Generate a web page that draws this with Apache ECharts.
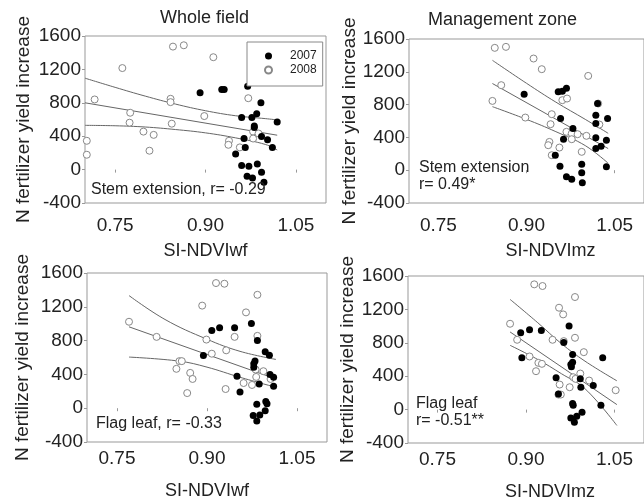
<!DOCTYPE html>
<html>
<head>
<meta charset="utf-8">
<script src="https://cdn.jsdelivr.net/npm/echarts@6/dist/echarts.min.js"></script>
<style>html,body{margin:0;padding:0;background:#fff;}#c{width:644px;height:502px;}</style>
</head>
<body>
<div id="c"></div>
<script>
// ---- data ----
const yearNames = ['2007', '2008'];
const xTicks = [0.75, 0.90, 1.05];
const yTicksMin = -400, yTicksMax = 1600, yTickStep = 400;
const panelTitles = ['Whole field', 'Management zone'];
const yAxisTitle = 'N fertilizer yield increase';
const xAxisTitles = ['SI-NDVIwf', 'SI-NDVImz', 'SI-NDVIwf', 'SI-NDVImz'];
const notes = ['Stem extension, r= -0.29', 'Stem extension\nr= 0.49*', 'Flag leaf, r= -0.33', 'Flag leaf\nr= -0.51**'];

// Panel 1: whole field, stem extension
const wfStem2007 = [[0.891,919],[0.927,958],[0.931,958],[0.970,998],[0.992,800],[0.960,624],[0.977,624],[0.985,670],[1.019,570],[0.981,522],[0.981,504],[0.964,373],[0.993,397],[1.003,356],[1.011,266],[0.966,266],[0.950,186],[0.960,48],[0.972,40],[0.986,68],[0.969,-79],[0.978,-102],[0.993,-31],[0.997,-150]];
const wfStem2008 = [[0.703,345],[0.703,178],[0.716,840],[0.762,1216],[0.775,681],[0.774,562],[0.797,455],[0.814,416],[0.807,226],[0.846,1473],[0.864,1489],[0.842,848],[0.842,808],[0.844,550],[0.913,1346],[0.898,641],[0.939,345],[0.938,297],[0.957,266],[0.971,855],[0.979,455],[0.979,372],[0.988,432]];
const wfStemFit = [[0.70,800],[1.019,412]];
const wfStemUpper = [[0.70,1095],[0.75,985],[0.80,880],[0.85,785],[0.90,705],[0.95,645],[1.00,610],[1.019,595]];
const wfStemLower = [[0.70,530],[0.75,525],[0.80,510],[0.85,480],[0.90,440],[0.95,380],[1.00,300],[1.019,235]];

// Panel 2: management zone, stem extension
const mzStem2007 = [[0.896,927],[0.954,958],[0.961,963],[0.968,1000],[1.021,813],[1.018,671],[1.038,630],[0.958,630],[1.018,569],[0.979,508],[1.018,395],[0.963,378],[1.036,366],[1.027,293],[1.018,265],[0.949,183],[0.994,73],[0.957,49],[1.036,41],[0.994,-32],[0.968,-80],[0.977,-110],[0.995,-154]];
const mzStem2008 = [[0.846,1492],[0.865,1504],[0.912,1362],[0.926,1232],[1.005,1150],[0.857,1037],[0.842,845],[0.898,642],[0.961,854],[0.969,874],[0.943,683],[0.941,561],[0.939,345],[0.937,305],[0.943,183],[0.956,276],[0.968,468],[0.977,448],[0.987,439],[1.002,419],[0.977,378],[0.994,224],[1.022,813],[1.024,557]];
const mzStemFit = [[0.842,1057],[1.039,264]];
const mzStemUpper = [[0.842,1340],[0.90,1060],[0.95,830],[1.00,620],[1.039,450]];
const mzStemLower = [[0.842,775],[0.90,620],[0.95,470],[1.00,300],[1.039,85]];

// Panel 3: whole field, flag leaf
const wfFlag2007 = [[0.894,625],[0.908,919],[0.921,951],[0.946,951],[0.974,1003],[0.984,800],[0.997,669],[1.004,626],[0.980,558],[0.978,525],[0.978,486],[1.005,399],[1.011,366],[0.950,378],[0.987,287],[1.011,259],[0.955,191],[0.983,48],[0.998,80],[1.000,52],[0.997,-31],[0.988,-79],[0.977,-87],[0.983,-150]];
const wfFlag2008 = [[0.770,1023],[0.816,844],[0.849,466],[0.854,557],[0.858,557],[0.872,418],[0.876,346],[0.867,179],[0.892,1214],[0.899,812],[0.908,645],[0.915,1481],[0.929,1473],[0.932,685],[0.931,227],[0.946,844],[0.965,1134],[0.961,298],[0.975,275],[0.984,1342],[0.984,856],[0.981,458],[0.982,370],[0.994,438],[1.006,346]];
const wfFlagFit = [[0.77,963],[1.015,346]];
const wfFlagUpper = [[0.77,1333],[0.83,1050],[0.90,816],[0.955,673],[1.015,577]];
const wfFlagLower = [[0.77,605],[0.854,557],[0.90,486],[0.955,366],[1.015,247]];

// Panel 4: management zone, flag leaf
const mzFlag2007 = [[0.891,920],[0.906,955],[0.926,948],[0.893,620],[0.973,1000],[0.964,805],[0.979,660],[0.979,568],[0.976,540],[0.977,512],[0.951,380],[0.992,368],[0.993,268],[1.014,288],[1.030,620],[1.027,52],[0.979,72],[0.980,52],[0.955,186],[0.995,-32],[0.986,-80],[0.976,-100],[0.982,-152]];
const mzFlag2008 = [[0.873,1028],[0.885,836],[0.906,636],[0.914,1500],[0.928,1480],[0.956,1220],[0.963,1140],[0.945,836],[0.964,820],[0.983,1348],[0.983,860],[0.998,688],[0.921,560],[0.927,548],[0.917,460],[0.957,300],[0.955,180],[0.959,180],[0.974,268],[0.980,388],[0.992,432],[0.984,368],[1.007,348],[1.052,232]];
const mzFlagFit = [[0.873,930],[1.054,60]];
const mzFlagUpper = [[0.873,1320],[0.92,1040],[0.96,790],[1.00,580],[1.054,345]];
const mzFlagLower = [[0.873,770],[0.92,600],[0.96,430],[1.00,250],[1.054,-190]];

// ---- chart ----
const FONT = 'Liberation Sans, Arial, Helvetica, sans-serif';
const panels = [
  {d07: wfStem2007, d08: wfStem2008, fit: wfStemFit, up: wfStemUpper, lo: wfStemLower},
  {d07: mzStem2007, d08: mzStem2008, fit: mzStemFit, up: mzStemUpper, lo: mzStemLower},
  {d07: wfFlag2007, d08: wfFlag2008, fit: wfFlagFit, up: wfFlagUpper, lo: wfFlagLower},
  {d07: mzFlag2007, d08: mzFlag2008, fit: mzFlagFit, up: mzFlagUpper, lo: mzFlagLower}
];
const gridBoxes = [
  {left: 85, top: 36, width: 241, height: 167},
  {left: 409, top: 39, width: 240, height: 164},
  {left: 87, top: 273, width: 240, height: 169},
  {left: 408, top: 276, width: 240, height: 167}
];
const yNameGaps = [52, 47, 55, 51];
const xLabelMargins = [13, 13, 7, 7];
const xNameGaps = [39, 39, 40, 40];
const xNamePad = [[0,0,0,0],[0,0,0,48],[0,0,0,0],[0,0,0,48]];
const notePos = [{left: 91, top: 181}, {left: 419, top: 159}, {left: 96, top: 415}, {left: 416, top: 395}];

const grids = gridBoxes.map(g => Object.assign({show: true, borderColor: '#999', borderWidth: 1, backgroundColor: 'transparent'}, g));
const xAxes = gridBoxes.map((g, i) => ({
  type: 'value', gridIndex: i, min: 0.70, max: 1.10,
  name: xAxisTitles[i], nameLocation: 'middle', nameGap: xNameGaps[i],
  nameTextStyle: {fontFamily: FONT, fontSize: 18, color: '#222', padding: xNamePad[i]},
  axisLine: {show: false},
  axisTick: {show: true, length: 3, lineStyle: {color: '#999'}, customValues: xTicks},
  axisLabel: {fontFamily: FONT, fontSize: 19, color: '#222', margin: xLabelMargins[i], customValues: xTicks,
    formatter: v => v.toFixed(2)},
  splitLine: {show: false}
}));
const yAxes = gridBoxes.map((g, i) => ({
  type: 'value', gridIndex: i, min: yTicksMin, max: yTicksMax, interval: yTickStep,
  name: yAxisTitle, nameLocation: 'middle', nameGap: yNameGaps[i],
  nameTextStyle: {fontFamily: FONT, fontSize: 19, color: '#222'},
  axisLine: {show: false},
  axisTick: {show: true, length: 3, lineStyle: {color: '#999'}},
  axisLabel: {fontFamily: FONT, fontSize: 19, color: '#222', margin: 4, formatter: v => String(v)},
  splitLine: {show: false}
}));

const series = [];
panels.forEach((p, i) => {
  const lineBase = {type: 'line', xAxisIndex: i, yAxisIndex: i, symbol: 'none', silent: true,
    lineStyle: {color: '#666', width: 1}, z: 1};
  series.push(Object.assign({}, lineBase, {data: p.fit}));
  series.push(Object.assign({}, lineBase, {data: p.up, smooth: 0.4}));
  series.push(Object.assign({}, lineBase, {data: p.lo, smooth: 0.4}));
  series.push({type: 'scatter', name: yearNames[0], xAxisIndex: i, yAxisIndex: i, data: p.d07,
    symbol: 'circle', symbolSize: 7, itemStyle: {color: '#000', opacity: 1}, z: 3});
  series.push({type: 'scatter', name: yearNames[1], xAxisIndex: i, yAxisIndex: i, data: p.d08,
    symbol: 'circle', symbolSize: 7, itemStyle: {color: '#fff', borderColor: '#888', borderWidth: 1, opacity: 1}, z: 2});
});

const titles = [
  {text: panelTitles[0], left: 160, top: 9},
  {text: panelTitles[1], left: 428, top: 11}
].map(t => Object.assign(t, {padding: 0, textStyle: {fontFamily: FONT, fontSize: 18, fontWeight: 'normal', color: '#222'}}));
notes.forEach((n, i) => titles.push({text: n, left: notePos[i].left, top: notePos[i].top, padding: 0,
  textStyle: {fontFamily: FONT, fontSize: 16, fontWeight: 'normal', color: '#222', lineHeight: 17}}));

const chart = echarts.init(document.getElementById('c'), null, {renderer: 'canvas'});
chart.setOption({
  animation: false,
  backgroundColor: '#fff',
  title: titles,
  legend: {
    data: [{name: yearNames[0], icon: 'circle'}, {name: yearNames[1], icon: 'circle'}],
    orient: 'vertical', left: 247, top: 42,
    itemWidth: 7, itemHeight: 7, itemGap: 2,
    padding: [8, 6, 10, 17],
    backgroundColor: '#fff', borderColor: '#888', borderWidth: 1, borderRadius: 0,
    textStyle: {fontFamily: FONT, fontSize: 12, color: '#222', padding: [0, 0, 0, 13]},
    selectedMode: false
  },
  grid: grids,
  xAxis: xAxes,
  yAxis: yAxes,
  series: series
});
</script>
</body>
</html>
